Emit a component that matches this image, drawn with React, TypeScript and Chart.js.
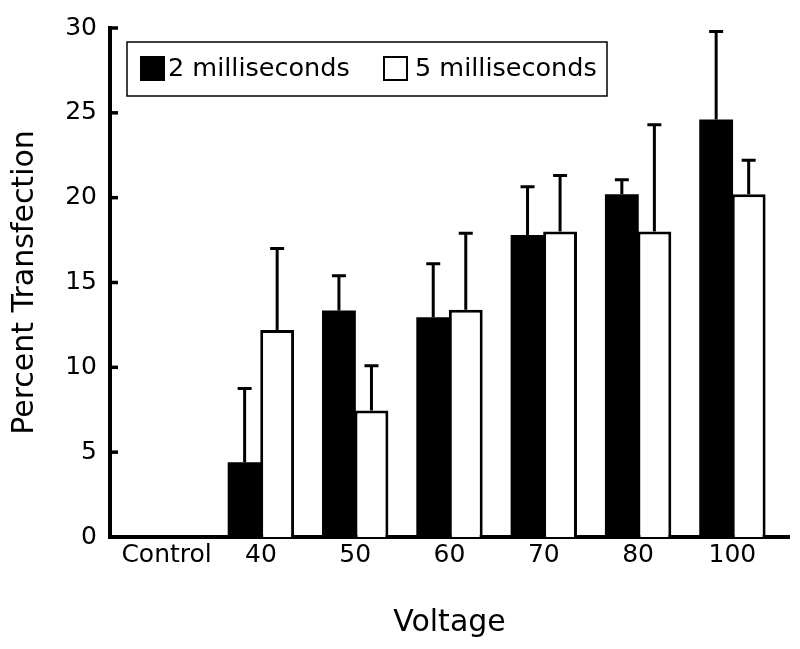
import React, { useEffect, useRef } from "react";
import { Chart, registerables } from "chart.js";

Chart.register(...registerables);

const categories = ["Control", "40", "50", "60", "70", "80", "100"];
const values2ms = [0, 4.4, 13.35, 12.95, 17.8, 20.2, 24.6];
const errTop2ms = [0, 8.75, 15.4, 16.1, 20.65, 21.05, 29.8];
const values5ms = [0, 12.2, 7.45, 13.4, 18.0, 18.0, 20.2];
const errTop5ms = [0, 17.0, 10.1, 17.9, 21.3, 24.3, 22.2];
const yTickValues = [0, 5, 10, 15, 20, 25, 30];
const legendLabels = ["2 milliseconds", "5 milliseconds"];
const xTitle = "Voltage";
const yTitle = "Percent Transfection";

const FONT = "'DejaVu Sans', 'Liberation Sans', Arial, sans-serif";

const errorBarPlugin = {
  id: "errorBars",
  afterDatasetsDraw(chart: any) {
    const ctx = chart.ctx;
    const yScale = chart.scales.y;
    const tops = [errTop2ms, errTop5ms];
    const vals = [values2ms, values5ms];
    ctx.save();
    ctx.strokeStyle = "#000";
    ctx.lineWidth = 3;
    chart.data.datasets.forEach((_: any, di: number) => {
      const meta = chart.getDatasetMeta(di);
      meta.data.forEach((bar: any, j: number) => {
        const top = tops[di][j];
        if (!(top > vals[di][j])) return;
        const yTop = yScale.getPixelForValue(top);
        ctx.beginPath();
        ctx.moveTo(bar.x, bar.y);
        ctx.lineTo(bar.x, yTop);
        ctx.moveTo(bar.x - 7, yTop);
        ctx.lineTo(bar.x + 7, yTop);
        ctx.stroke();
      });
    });
    ctx.restore();
  },
};

const innerTicksPlugin = {
  id: "innerTicks",
  afterDraw(chart: any) {
    const ctx = chart.ctx;
    const yScale = chart.scales.y;
    const left = chart.chartArea.left;
    ctx.save();
    ctx.strokeStyle = "#000";
    ctx.lineWidth = 3.5;
    yTickValues.forEach((v) => {
      if (v === 0) return;
      const y = yScale.getPixelForValue(v);
      ctx.beginPath();
      ctx.moveTo(left - 2, y);
      ctx.lineTo(left + 8, y);
      ctx.stroke();
    });
    ctx.restore();
  },
};

const boxLegendPlugin = {
  id: "boxLegend",
  afterDraw(chart: any) {
    const ctx = chart.ctx;
    const area = chart.chartArea;
    const bx = area.left + 17;
    const by = area.top + 14;
    const bw = 480;
    const bh = 54;
    ctx.save();
    ctx.strokeStyle = "#000";
    ctx.lineWidth = 1.5;
    ctx.fillStyle = "#fff";
    ctx.fillRect(bx, by, bw, bh);
    ctx.strokeRect(bx, by, bw, bh);
    const items = [
      { sx: bx + 13, tx: bx + 41, fill: "#000", text: legendLabels[0] },
      { sx: bx + 256, tx: bx + 288, fill: "#fff", text: legendLabels[1] },
    ];
    ctx.font = `25.5px ${FONT}`;
    ctx.textBaseline = "middle";
    ctx.textAlign = "left";
    items.forEach((it) => {
      ctx.fillStyle = it.fill;
      ctx.fillRect(it.sx, by + 14, 25, 25);
      ctx.lineWidth = 2;
      ctx.strokeStyle = "#000";
      ctx.strokeRect(it.sx + 1, by + 15, 23, 23);
      ctx.fillStyle = "#000";
      ctx.fillText(it.text, it.tx, by + 27);
    });
    ctx.restore();
  },
};

export default function App() {
  const canvasRef = useRef<HTMLCanvasElement | null>(null);

  useEffect(() => {
    document.body.style.margin = "0";
    const canvas = canvasRef.current;
    if (!canvas) return;
    const chart = new Chart(canvas, {
      type: "bar",
      data: {
        datasets: [
          {
            label: legendLabels[0],
            data: values2ms.map((v, i) => ({ x: i, y: v })),
            backgroundColor: "#000",
            borderColor: "#000",
            borderWidth: 0,
          },
          {
            label: legendLabels[1],
            data: values5ms.map((v, i) => ({ x: i, y: v })),
            backgroundColor: "#fff",
            borderColor: "#000",
            borderWidth: 3,
          },
        ],
      },
      options: {
        responsive: false,
        animation: false,
        devicePixelRatio: 1,
        categoryPercentage: 0.69,
        barPercentage: 1.04,
        layout: { padding: { top: 19, right: 11, left: 0, bottom: 0 } },
        plugins: {
          legend: { display: false },
          tooltip: { enabled: false },
        },
        scales: {
          x: {
            type: "linear",
            offset: false,
            min: -0.6,
            max: 6.6,
            afterBuildTicks: (axis: any) => {
              axis.ticks = categories.map((_, i) => ({ value: i }));
            },
            afterFit: (s: any) => {
              s.height = 112;
            },
            grid: { display: false, drawTicks: false },
            border: { display: true, color: "#000", width: 4 },
            ticks: {
              autoSkip: false,
              maxRotation: 0,
              padding: 3,
              color: "#000",
              font: { family: FONT, size: 25 },
              callback: (v: any) => categories[v as number] ?? "",
            },
            title: {
              display: true,
              text: xTitle,
              color: "#000",
              font: { family: FONT, size: 30 },
              padding: { top: 0, bottom: 8 },
            },
          },
          y: {
            min: 0,
            max: 30,
            afterBuildTicks: (axis: any) => {
              axis.ticks = yTickValues.map((v) => ({ value: v }));
            },
            afterFit: (s: any) => {
              s.width = 110;
            },
            grid: { display: false, drawTicks: false },
            border: { display: true, color: "#000", width: 4 },
            ticks: {
              padding: 13,
              color: "#000",
              font: { family: FONT, size: 25 },
            },
            title: {
              display: true,
              text: yTitle,
              color: "#000",
              font: { family: FONT, size: 30 },
              padding: { top: 7, bottom: 0 },
            },
          },
        },
      },
      plugins: [errorBarPlugin, innerTicksPlugin, boxLegendPlugin],
    } as any);
    return () => chart.destroy();
  }, []);

  return (
    <div style={{ width: 800, height: 649, background: "#fff" }}>
      <canvas ref={canvasRef} width={800} height={649} style={{ display: "block" }} />
    </div>
  );
}
